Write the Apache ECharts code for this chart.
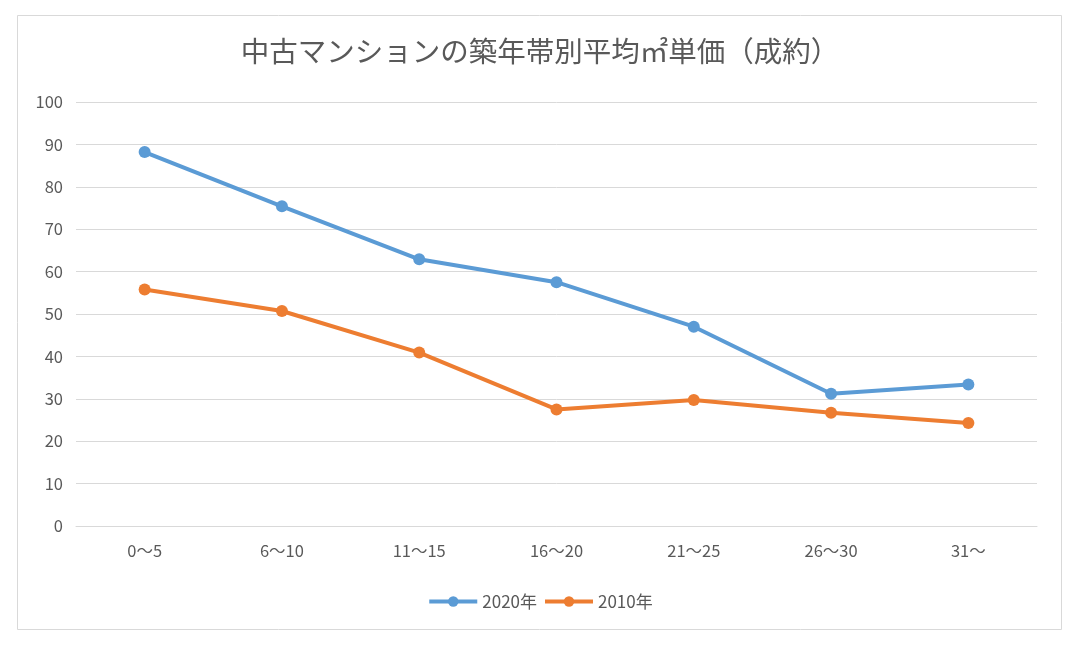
<!DOCTYPE html>
<html><head><meta charset="utf-8">
<script src="https://cdn.jsdelivr.net/npm/echarts@6/dist/echarts.min.js"></script>
<style>html,body{margin:0;padding:0;background:#fff}#c{width:1080px;height:651px}</style>
</head><body><div id="c"></div>
<script>
const categories = ['0～5','6～10','11～15','16～20','21～25','26～30','31～'];
const values2020 = [88.2, 75.4, 62.9, 57.5, 47.0, 31.2, 33.4];
const values2010 = [55.8, 50.7, 40.9, 27.5, 29.7, 26.7, 24.3];
const seriesNames = ['2020年','2010年'];
const titleText = '中古マンションの築年帯別平均㎡単価（成約）';

const font = '"Noto Sans CJK JP", "Noto Sans", sans-serif';
const chart = echarts.init(document.getElementById('c'), null, {renderer:'canvas'});
chart.setOption({
  backgroundColor:'#fff',
  animation:false,
  graphic:[{type:'rect', shape:{x:17.5,y:15.5,width:1044,height:614}, style:{fill:'none',stroke:'#d9d9d9',lineWidth:1}}],
  title:{text:titleText,left:'center',top:32,textStyle:{fontFamily:font,fontSize:28.5,fontWeight:'normal',color:'#595959'}},
  grid:{left:76,right:43,top:102,bottom:125},
  legend:{bottom:36,left:'center',itemWidth:48,itemHeight:13,itemGap:6,
    lineStyle:{width:4},
    textStyle:{fontFamily:font,fontSize:17,color:'#595959'},data:seriesNames},
  xAxis:{type:'category',data:categories,boundaryGap:true,
    axisLine:{show:true,lineStyle:{color:'#d9d9d9',width:1}},axisTick:{show:false},
    axisLabel:{fontFamily:font,fontSize:16.5,color:'#595959',margin:16}},
  yAxis:{type:'value',min:0,max:100,interval:10,
    axisLine:{show:false},axisTick:{show:false},
    axisLabel:{fontFamily:font,fontSize:16.5,color:'#595959',margin:13},
    splitLine:{lineStyle:{color:'#d9d9d9',width:1}}},
  series:[
    {name:seriesNames[0],type:'line',data:values2020,symbol:'circle',symbolSize:12,
     lineStyle:{width:4,color:'#5B9BD5'},itemStyle:{color:'#5B9BD5'}},
    {name:seriesNames[1],type:'line',data:values2010,symbol:'circle',symbolSize:12,
     lineStyle:{width:4,color:'#ED7D31'},itemStyle:{color:'#ED7D31'}}
  ]
});
</script></body></html>
